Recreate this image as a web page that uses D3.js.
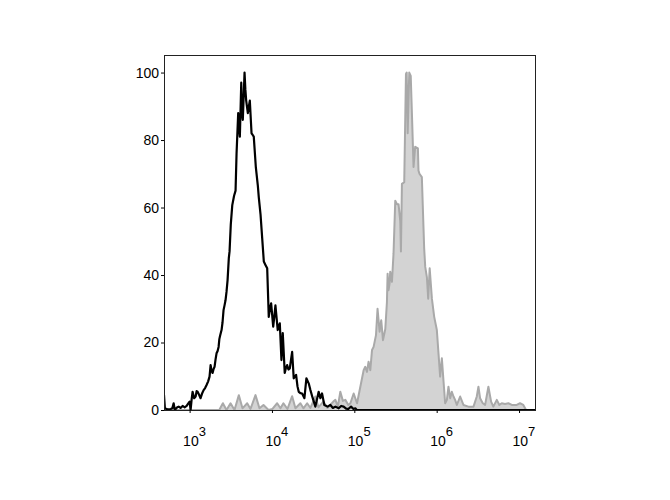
<!DOCTYPE html>
<html>
<head>
<meta charset="utf-8">
<script src="https://cdn.jsdelivr.net/npm/d3@7"></script>
<style>
  body { margin: 0; background: #fff; }
  svg { font-family: "Liberation Sans", Arial, sans-serif; }
</style>
</head>
<body>
<div id="chartDiv"></div>
<script>
// channel positions are log10 of fluorescence, counts are % of max

var blackDecade = [2.689, 2.700, 2.730, 2.770, 2.790, 2.806, 2.818, 2.830, 2.850, 2.867, 2.890, 2.915, 2.940, 2.964, 2.980,
  3.000, 3.012, 3.024, 3.036, 3.055, 3.073, 3.085, 3.097, 3.115, 3.133, 3.150, 3.170, 3.188, 3.206, 3.225, 3.242, 3.255,
  3.268, 3.279, 3.292, 3.303, 3.315, 3.327, 3.340, 3.352, 3.361, 3.370, 3.380, 3.388, 3.400, 3.412, 3.424, 3.436, 3.448,
  3.461, 3.476, 3.485, 3.500, 3.518, 3.540, 3.558, 3.570, 3.580, 3.590, 3.600, 3.610, 3.627, 3.636, 3.646, 3.667, 3.677,
  3.687, 3.707, 3.720, 3.731, 3.752, 3.766, 3.779, 3.804, 3.828, 3.840, 3.861, 3.881, 3.901, 3.921, 3.942, 3.961, 3.975,
  3.990, 4.015, 4.030, 4.042, 4.070, 4.095, 4.115, 4.131, 4.155, 4.170, 4.184, 4.200, 4.216, 4.245, 4.264, 4.293, 4.310,
  4.325, 4.345, 4.366, 4.394, 4.418, 4.446, 4.467, 4.495, 4.527, 4.567, 4.588, 4.608, 4.636, 4.676, 4.709, 4.740, 4.770,
  4.810, 4.840, 4.870, 4.900, 4.927, 4.960, 4.990, 5.012, 5.030, 7.206];
var blackCount = [4.4, 0.5, 0.2, 0.3, 0.5, 2, 0.3, 0.3, 0.8, 1, 0.6, 1.2, 0.8, 1.2, 1.8,
  2.5, 0, 3, 5.4, 3.5, 4, 5.6, 5.4, 4.5, 3.5, 4.8, 5.9, 6.5, 7.4, 8.5, 9.9, 13.3,
  11.5, 11, 12.2, 12.8, 15, 16.8, 17.5, 18.7, 21, 22, 23, 23.7, 26, 29.6, 31, 32.5, 35,
  38.5, 45, 47, 55, 60.7, 63.5, 65, 76, 82, 88, 84, 81, 97, 88, 86, 100, 95,
  91.7, 88, 90, 91.7, 82, 81.5, 81, 72, 66.6, 63, 58, 51, 44, 43, 42, 27.6, 30,
  31.6, 24.7, 28, 31, 23.7, 25.7, 14.8, 22.8, 11, 12.5, 13.3, 12, 12.3, 17.2, 9.4, 10.4, 7,
  5.4, 5, 4.9, 3.5, 9.4, 7.9, 5.9, 3.5, 1, 5.4, 3.5, 4.9, 1.5, 1, 1.5, 0.6, 1,
  0.5, 1.2, 1, 0.4, 0.3, 1, 0.3, 0.5, 0, 0];

var grayDecade = [2.689, 3.360, 3.404, 3.448, 3.497, 3.545, 3.598, 3.642, 3.699, 3.739, 3.800, 3.848, 3.897, 3.958,
  4.006, 4.063, 4.103, 4.139, 4.188, 4.245, 4.285, 4.345, 4.382, 4.427, 4.467, 4.527, 4.564, 4.624, 4.673, 4.745,
  4.770, 4.800, 4.830, 4.861, 4.891, 4.927, 4.952, 4.992, 5.033, 5.073, 5.113, 5.133, 5.154, 5.173, 5.194, 5.215,
  5.234, 5.263, 5.282, 5.307, 5.327, 5.348, 5.376, 5.396, 5.404, 5.416, 5.428, 5.436, 5.457, 5.476, 5.497, 5.518,
  5.537, 5.558, 5.566, 5.578, 5.606, 5.627, 5.636, 5.648, 5.667, 5.685, 5.703, 5.719, 5.739, 5.772, 5.779, 5.791,
  5.820, 5.840, 5.848, 5.861, 5.881, 5.897, 5.915, 5.942, 5.970, 6.002, 6.022, 6.042, 6.063, 6.082, 6.103, 6.124,
  6.143, 6.164, 6.184, 6.204, 6.224, 6.245, 6.285, 6.325, 6.385, 6.447, 6.487, 6.507, 6.527, 6.560, 6.588, 6.628,
  6.661, 6.688, 6.730, 6.761, 6.790, 6.830, 6.870, 6.912, 6.972, 7.012, 7.052, 7.085, 7.206];
var grayCount = [0, 0, 2, 0, 2, 0, 4.4, 0.5, 2, 0.3, 4.4, 0.5, 1.5, 0,
  0.3, 2, 0.5, 2, 0.3, 4.1, 0.5, 2, 0.5, 2, 0.6, 4, 0.8, 2.5, 0.6, 2.5,
  3, 1, 5.4, 2.7, 3, 1.5, 2, 4.9, 2, 6.9, 11.8, 12.8, 11.3, 14.3, 11.8, 17.8,
  18.7, 22.2, 30, 23.2, 26.6, 20.7, 24, 32, 40.4, 35.5, 37.5, 41, 38, 46.4, 62, 61,
  61, 56, 47, 67, 67.5, 99.6, 100, 82, 100, 99, 85, 72, 78, 77.5, 71, 70,
  69, 54, 48, 42.4, 39.4, 33, 42, 33, 27.6, 23.7, 16.8, 9.9, 15.3, 8.9, 2, 3,
  6.9, 3.5, 5.4, 4, 3, 1.5, 4, 1.5, 1, 1, 4, 6.9, 3.5, 2, 1.5, 6.9,
  2.5, 1, 3, 1.5, 2, 1.8, 2, 1.5, 1.5, 2, 1.5, 0, 0];

var yTicks = [0, 20, 40, 60, 80, 100];
var xTicks = [3, 4, 5, 6, 7];

var width = 670, height = 500;
var plotLeft = 164, plotRight = 536, plotTop = 55, plotBottom = 410;

var x = d3.scaleLog()
          .domain([Math.pow(10, 2.689), Math.pow(10, 7.206)])
          .range([plotLeft, plotRight]);
var y = d3.scaleLinear()
          .domain([0, 105.2])
          .range([plotBottom, plotTop]);

var svg = d3.select("#chartDiv")
            .append("svg")
            .attr("width", width)
            .attr("height", height);

svg.append("clipPath").attr("id", "plotClip")
   .append("rect")
   .attr("x", plotLeft).attr("y", plotTop - 2)
   .attr("width", plotRight - plotLeft).attr("height", plotBottom - plotTop + 2);

var plot = svg.append("g").attr("clip-path", "url(#plotClip)");

function toPoints(dec, cnt) {
    return dec.map(function(d, i) { return [Math.pow(10, d), cnt[i]]; });
}

var grayData = toPoints(grayDecade, grayCount);
var blackData = toPoints(blackDecade, blackCount);

var area = d3.area()
             .x(function(d) { return x(d[0]); })
             .y0(y(0))
             .y1(function(d) { return y(d[1]); });
var line = d3.line()
             .x(function(d) { return x(d[0]); })
             .y(function(d) { return y(d[1]); });

plot.append("path")
    .attr("d", area(grayData))
    .attr("fill", "#d3d3d3");
plot.append("path")
    .attr("d", line(grayData))
    .attr("fill", "none")
    .attr("stroke", "#a9a9a9")
    .attr("stroke-width", 2)
    .attr("stroke-linejoin", "round");
plot.append("path")
    .attr("d", line(blackData))
    .attr("fill", "none")
    .attr("stroke", "#000")
    .attr("stroke-width", 2.2)
    .attr("stroke-linejoin", "round");

// frame
svg.append("rect")
   .attr("x", plotLeft + 0.5).attr("y", plotTop + 0.5)
   .attr("width", plotRight - plotLeft - 1).attr("height", plotBottom - plotTop)
   .attr("fill", "none")
   .attr("stroke", "#222")
   .attr("stroke-width", 1);

var yAxis = svg.append("g")
               .attr("transform", "translate(" + plotLeft + ",0)")
               .call(d3.axisLeft(y).tickValues(yTicks).tickSize(3).tickPadding(2));
yAxis.select(".domain").remove();
yAxis.selectAll("text").attr("font-size", 14).attr("fill", "#000")
     .attr("font-family", "Liberation Sans, Arial, sans-serif");

var xAxis = svg.append("g")
               .attr("transform", "translate(0," + plotBottom + ")")
               .call(d3.axisBottom(x)
                       .tickValues(xTicks.map(function(e) { return Math.pow(10, e); }))
                       .tickSize(3)
                       .tickFormat(""));
xAxis.select(".domain").remove();

xAxis.selectAll(".tick")
     .append("text")
     .attr("x", -7)
     .attr("y", 36)
     .attr("text-anchor", "start")
     .attr("font-size", 14)
     .attr("fill", "#000")
     .text("10")
     .append("tspan")
     .attr("dy", -10)
     .attr("font-size", 13)
     .text(function(d, i) { return xTicks[i]; });
</script>
</body>
</html>
